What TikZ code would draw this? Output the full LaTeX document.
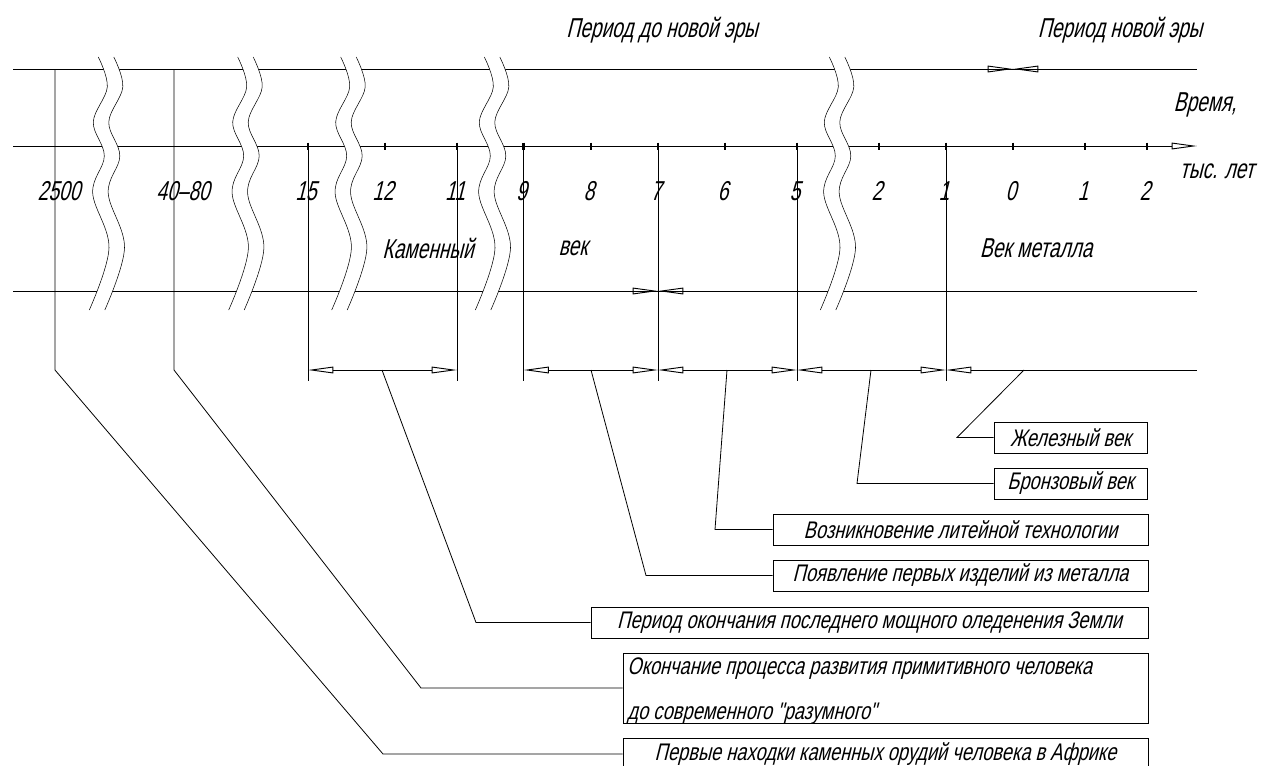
\documentclass[tikz,border=0pt]{standalone}
\usepackage{fontspec}
\setmainfont{Liberation Sans}[FakeSlant=0.25,FakeStretch=0.7]
\newfontfamily\boxfont{Liberation Sans}[FakeSlant=0.25,FakeStretch=0.76]
\usetikzlibrary{arrows.meta}

% a pair of wavy break lines; the strip between them is blanked out
\newcommand\wavebreak[1]{%
  \begin{scope}[shift={(#1,0)}]
    \fill[white] plot[smooth,tension=0.6] coordinates
      {(0,57) (9,87) (-5,122) (6,156) (-5.6,193) (10.7,248) (-9,310)}
      -- plot[smooth,tension=0.6] coordinates
      {(6.5,310) (26.2,248) (9.9,193) (21.5,156) (10.5,122) (24.5,87) (15.5,57)}
      -- cycle;
    \draw[thin] plot[smooth,tension=0.6] coordinates
      {(0,57) (9,87) (-5,122) (6,156) (-5.6,193) (10.7,248) (-9,310)};
    \draw[thin] plot[smooth,tension=0.6] coordinates
      {(15.5,57) (24.5,87) (10.5,122) (21.5,156) (9.9,193) (26.2,248) (6.5,310)};
  \end{scope}}

\begin{document}
\begin{tikzpicture}[x=0.75pt,y=-0.75pt,line width=0.6pt,
  >={Triangle[open,length=19pt,width=5pt,line width=0.7pt]},
  tickmark/.style={line width=1.6pt},
  lbl/.style={inner sep=0pt,font=\fontsize{20.5}{22}\selectfont},
  boxtext/.style={inner sep=0pt,font=\boxfont\fontsize{18}{20}\selectfont},
  box/.style={draw,line width=0.6pt,inner sep=0pt,minimum height=23.25pt,
    font=\boxfont\fontsize{18}{20}\selectfont},
]
\clip (0,0) rectangle (1261,765);

% horizontal lines
\coordinate (topL) at (13,69);   \coordinate (topR) at (1197,69);
\coordinate (axL) at (13,146);   \coordinate (axR) at (1197,146);
\coordinate (lowL) at (13,291);  \coordinate (lowR) at (1197,291);
\draw (topL) -- (topR);
\draw[->] (axL) -- (axR);
\draw (lowL) -- (lowR);

% era boundary on the top line and age boundary on the lower line
\coordinate (era) at (1013,69);
\draw[->] (987,69) -- (era);
\draw[->] (1039,69) -- (era);
\coordinate (age) at (658,291);
\draw[->] (632,291) -- (age);
\draw[->] (684,291) -- (age);

% ticks on the time axis with their numbers
\foreach \nm/\x/\t in {a15/308/15,a12/385/12,a11/457/11,a9/523.5/9,a8/591/8,
    a7/658/7,a6/725/6,a5/797/5,a2/879/2,a1/946/1,n0/1013/0,n1/1085/1,n2/1147/2}{
  \coordinate (\nm) at (\x,146);
  \draw[tickmark] (\x,142.5) -- (\x,150);
  \node[lbl] (l\nm) at (\x-2,191) {\t};
}
\node[lbl] (l2500) at (59,191) {2500};
\node[lbl] (l4080) at (183,191) {40–80};

% extension lines down to the dimension line
\foreach \nm in {a15,a11,a9,a7,a5,a1}
  \draw (\nm) -- ++(0,235);

% dimension line with its arrows
\coordinate (d15) at (308,370); \coordinate (d11) at (457,370);
\coordinate (d9) at (523.5,370); \coordinate (d7) at (658,370);
\coordinate (d5) at (797,370);  \coordinate (d1) at (946,370);
\coordinate (dR) at (1197,370);
\draw[<->] (d15) -- (d11);
\draw[<->] (d9) -- (d7);
\draw[<->] (d7) -- (d5);
\draw[<->] (d5) -- (d1);
\draw[<-] (d1) -- (dR);

% captions
\node[lbl] (bc) at (662,30) {Период до новой эры};
\node[lbl] (ad) at (1120,30) {Период новой эры};
\node[lbl] (time) at (1205,105) {Время,};
\node[lbl] (unit) at (1217,171) {тыс. лет};
\node[lbl] (stone1) at (428,248) {Каменный};
\node[lbl] (stone2) at (573,248) {век};
\node[lbl] (metal) at (1036,248) {Век металла};

% breaks of the scale
\wavebreak{98.3}
\wavebreak{237.7}
\wavebreak{340.7}
\wavebreak{484.3}
\wavebreak{829.3}

% callout boxes
\node[box,minimum width=114.75pt] (iron) at (1070.5,437.5) {Железный век};
\node[box,minimum width=114.75pt] (bronze) at (1070.5,483.5) {Бронзовый век};
\node[box,minimum width=281.25pt] (cast) at (960.5,529.5) {Возникновение литейной технологии};
\node[box,minimum width=281.25pt] (first) at (960.5,575.5) {Появление первых изделий из металла};
\node[box,minimum width=417.75pt] (ice) at (869.5,622.5) {Период окончания последнего мощного оледенения Земли};
\node[box,minimum width=393.75pt,minimum height=52.5pt] (homo) at (885.5,688) {};
\node[boxtext,anchor=base west] (homo1) at (627,674)
  {Окончание процесса развития примитивного человека};
\node[boxtext,anchor=base west] (homo2) at (627,719)
  {до современного "разумного"};
\node[box,minimum width=393.75pt] (tools) at (885.5,754) {Первые находки каменных орудий человека в Африке};

% leaders
\coordinate (v2500) at (55,69);
\coordinate (v4080) at (174,69);
\draw (v2500) -- (55,370) -- (383,754) -- (tools.west);
\draw (v4080) -- (174,370) -- (421,688) -- (homo.west);
\draw (382,370) -- (476,622.5) -- (ice.west);
\draw (591,370) -- (646,575.5) -- (first.west);
\draw (727,370) -- (715,529.5) -- (cast.west);
\draw (871,370) -- (857,483.5) -- (bronze.west);
\draw (1024,370) -- (957,437.5) -- (iron.west);
\end{tikzpicture}
\end{document}
